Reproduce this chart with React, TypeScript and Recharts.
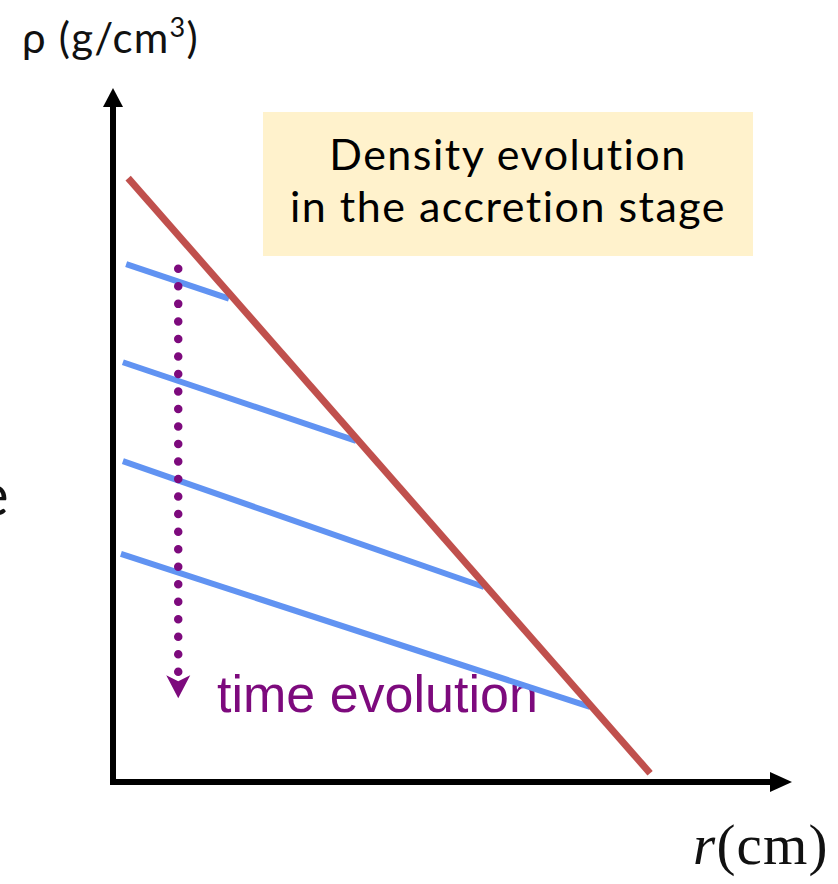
import { LineChart, Line, XAxis, YAxis, ReferenceDot } from 'recharts';

// axis units are arbitrary (log r, log rho), 0..100 on both axes
const envelope = [
  { r: 2.3, rho: 89.2 },
  { r: 81.5, rho: 1.3 },
];
const profile1 = [
  { r: 2.0, rho: 76.5 },
  { r: 17.6, rho: 71.4 },
];
const profile2 = [
  { r: 1.5, rho: 62.0 },
  { r: 36.9, rho: 50.4 },
];
const profile3 = [
  { r: 1.5, rho: 47.4 },
  { r: 56.3, rho: 28.8 },
];
const profile4 = [
  { r: 1.2, rho: 33.7 },
  { r: 72.4, rho: 11.1 },
];
const timeArrow = [
  { r: 9.9, rho: 75.8 },
  { r: 9.9, rho: 16.2 },
];
const profiles = [profile1, profile2, profile3, profile4];

const RED = '#C0504D';
const BLUE = '#6193F2';
const PURPLE = '#7D0A7D';

const W = 838;
const H = 884;

const UpArrow = (p: any) => (
  <polygon points={`${p.cx - 10},${p.cy + 2} ${p.cx},${p.cy - 17} ${p.cx + 10},${p.cy + 2}`} fill="#000" />
);
const RightArrow = (p: any) => (
  <polygon points={`${p.cx - 2},${p.cy - 10} ${p.cx + 20},${p.cy} ${p.cx - 2},${p.cy + 10}`} fill="#000" />
);
const Chevron = (p: any) => (
  <path
    d={`M${p.cx - 12},${p.cy + 3} L${p.cx},${p.cy + 9} L${p.cx + 12},${p.cy + 3} L${p.cx},${p.cy + 26} Z`}
    fill={PURPLE}
  />
);

export default function App() {
  const last = timeArrow[timeArrow.length - 1];
  return (
    <div style={{ position: 'absolute', left: 0, top: 0, width: W, height: H, background: '#fff', overflow: 'hidden' }}>
      {/* annotations sit under the chart layer */}
      <svg width={W} height={H} style={{ position: 'absolute', left: 0, top: 0 }}>
        <text x={22} y={53} fontFamily="Lato" fontSize={42} fill="#111" letterSpacing={1.2}>
          ρ (g/cm<tspan fontSize={27} dy={-16}>3</tspan>
          <tspan dy={16}>)</tspan>
        </text>
        <text x={-23} y={516} fontFamily="Lato" fontSize={60} fill="#111">
          e
        </text>
        <rect x={263} y={112} width={490} height={144} fill="#FFF2CC" />
        <text x={508} y={170} textAnchor="middle" fontFamily="Lato" fontSize={43} letterSpacing={1.5} fill="#000">
          Density evolution
        </text>
        <text x={508} y={222} textAnchor="middle" fontFamily="Lato" fontSize={43} letterSpacing={1.5} fill="#000">
          in the accretion stage
        </text>
        <text x={217} y={712} fontFamily="Liberation Sans" fontSize={52} fill={PURPLE}>
          time evolution
        </text>
        <text x={693} y={864} fontFamily="Liberation Serif" fontSize={57} fill="#111" letterSpacing={1.2}>
          <tspan fontStyle="italic">r</tspan>(cm)
        </text>
      </svg>
      <div style={{ position: 'absolute', left: 0, top: 0 }}>
        <LineChart width={W} height={H} margin={{ top: 105, right: 66, bottom: 101, left: 112 }}>
          <XAxis
            type="number"
            dataKey="r"
            domain={[0, 100]}
            allowDataOverflow
            height={1}
            tick={false}
            tickLine={false}
            axisLine={{ stroke: '#000', strokeWidth: 6, strokeLinecap: 'square' }}
          />
          <YAxis
            type="number"
            dataKey="rho"
            domain={[0, 100]}
            allowDataOverflow
            width={1}
            tick={false}
            tickLine={false}
            axisLine={{ stroke: '#000', strokeWidth: 6, strokeLinecap: 'square' }}
          />
          {profiles.map((d, i) => (
            <Line
              key={i}
              data={d}
              dataKey="rho"
              type="linear"
              stroke={BLUE}
              strokeWidth={6}
              dot={false}
              activeDot={false}
              isAnimationActive={false}
            />
          ))}
          <Line
            data={envelope}
            dataKey="rho"
            type="linear"
            stroke={RED}
            strokeWidth={7}
            dot={false}
            activeDot={false}
            isAnimationActive={false}
          />
          <Line
            data={timeArrow}
            dataKey="rho"
            type="linear"
            stroke={PURPLE}
            strokeWidth={8.5}
            strokeLinecap="round"
            strokeDasharray="0 17.52"
            dot={false}
            activeDot={false}
            isAnimationActive={false}
          />
          <ReferenceDot x={last.r} y={last.rho} ifOverflow="visible" shape={Chevron} />
          <ReferenceDot x={0} y={100} ifOverflow="visible" shape={UpArrow} />
          <ReferenceDot x={100} y={0} ifOverflow="visible" shape={RightArrow} />
        </LineChart>
      </div>
    </div>
  );
}
